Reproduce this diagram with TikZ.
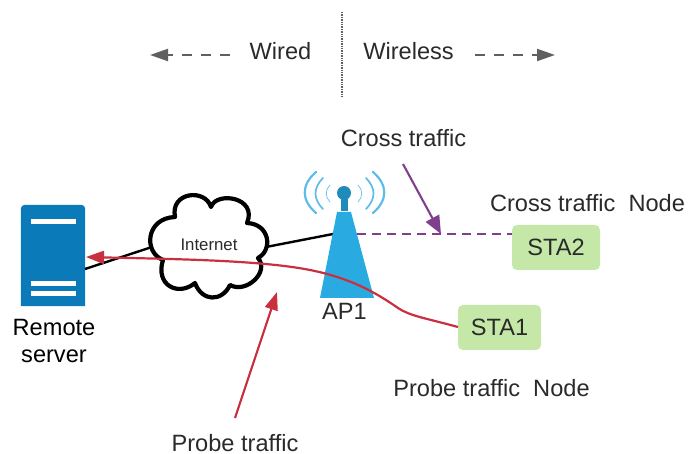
\documentclass[tikz,border=0pt]{standalone}
\usepackage{fontspec}
\setmainfont{Liberation Sans}
\usetikzlibrary{arrows.meta}
\definecolor{srv}{HTML}{0B7AB8}
\definecolor{apblue}{HTML}{29ABE2}
\definecolor{apdark}{HTML}{1F8BBB}
\definecolor{wave}{HTML}{5DBDE8}
\definecolor{redl}{HTML}{C8303F}
\definecolor{purp}{HTML}{7F3F8C}
\definecolor{sta}{HTML}{C5E8A8}
\definecolor{grayl}{HTML}{606060}
\definecolor{txt}{HTML}{2A2A2A}
\tikzset{
  lbl/.style={inner sep=0pt,text=txt,font=\fontsize{23.6}{26}\selectfont},
  stabox/.style={fill=sta,rounded corners=5pt,inner sep=0pt,text=txt,font=\fontsize{23.6}{26}\selectfont},
  bar/.style={fill=white,draw=none},
  redarrow/.style={draw=redl,line width=2.2pt,-{Triangle[length=18pt,width=13pt]}},
  wavea/.style={draw=wave,line cap=round},
  grayarrow/.style={draw=grayl,line width=2pt,dash pattern=on 10pt off 9pt,-{Triangle[length=18pt,width=12pt]}},
  link/.style={draw=black,line width=2.4pt},
}
\begin{document}
\begin{tikzpicture}[x=1pt,y=-1pt]
\useasboundingbox (0,0) rectangle (689,454);
% top
\coordinate (dtop) at (342,12);
\coordinate (dbot) at (342,98);
\draw[grayl,line width=1.8pt,dash pattern=on 1.4pt off 1pt] (dtop) -- (dbot);
\node[lbl] (wired) at (280.5,51) {Wired};
\node[lbl] (wireless) at (408.5,51) {Wireless};
\coordinate (la0) at (230,55); \coordinate (la1) at (150,55);
\coordinate (ra0) at (475,55); \coordinate (ra1) at (555,55);
\draw[grayarrow] (la0) -- (la1);
\draw[grayarrow] (ra0) -- (ra1);
% links under
\node[inner sep=0pt,minimum width=64pt,minimum height=101pt] (server) at (53,255.5) {};
\fill[srv] (server.south west) [rounded corners=4pt] -- (server.north west) -- (server.north east) [sharp corners] -- (server.south east) -- cycle;
\coordinate (s1) at (85,269); \coordinate (c1) at (152,247);
\coordinate (c2) at (266,247); \coordinate (a1) at (333,234);
\draw[link] (s1) -- (c1);
\draw[link] (c2) -- (a1);
\fill[bar] (31,219) rectangle (76,224);
\fill[bar] (31,281) rectangle (76,286);
\fill[bar] (31,291) rectangle (76,296);
\node[lbl,text=black] (remote) at (54,327.5) {Remote};
\node[lbl,text=black] (serverl) at (54,356) {server};
% cloud
\draw[black,line width=4.2pt,fill=white,line join=round]
 (175,217) .. controls (170,192) and (205,188) .. (211,207)
 .. controls (216,191) and (258,197) .. (247,223)
 .. controls (270,224) and (273,250) .. (258,258)
 .. controls (270,272) and (246,294) .. (230,285)
 .. controls (222,302) and (202,302) .. (195,283)
 .. controls (178,297) and (155,285) .. (163,260)
 .. controls (143,252) and (146,218) .. (175,217) -- cycle;
\node[inner sep=0pt,text=txt,font=\fontsize{16.8}{19}\selectfont] (internet) at (209,245) {Internet};
% AP
\fill[apblue] (337,212) -- (351,212) -- (374,298) -- (320,298) -- cycle;
\fill[apdark] (341,197) rectangle (348,211);
\fill[apdark] (344,193) circle (7);
\draw[wavea,line width=2.2pt] (316,172) .. controls (301,185) and (301,200) .. (316,213);
\draw[wavea,line width=1.7pt] (323,178) .. controls (313,188) and (313,199) .. (323,209);
\draw[wavea,line width=.7pt] (330,185) .. controls (325,190) and (325,197) .. (330,202);
\draw[wavea,line width=2.2pt] (373,172) .. controls (388,185) and (388,200) .. (373,213);
\draw[wavea,line width=1.7pt] (366,178) .. controls (376,188) and (376,199) .. (366,209);
\draw[wavea,line width=.7pt] (358,185) .. controls (363,190) and (363,197) .. (358,202);
\node[lbl] (ap) at (344.5,311) {AP1};
% stations
\node[stabox,minimum width=88pt,minimum height=45pt] (sta2) at (556,247.5) {STA2};
\node[stabox,minimum width=83pt,minimum height=45pt] (sta1) at (499.5,327.5) {STA1};
\coordinate (a2) at (357,234);
\coordinate (sta2w) at (sta2.west |- a2);
\coordinate (p0) at (403,164); \coordinate (p1) at (441,234);
\draw[purp,line width=2.2pt,dash pattern=on 9pt off 6pt] (a2) -- (sta2w);
\draw[purp,line width=2.1pt,-{Triangle[length=18pt,width=15pt]}] (p0) -- (p1);
% red
\coordinate (r0) at (458,327); \coordinate (r1) at (86,257);
\draw[redarrow] (r0) .. controls (425,318) and (410,316) .. (398,308)
 .. controls (375,292) and (350,278) .. (310,270)
 .. controls (260,260) and (170,259) .. (r1);
\coordinate (q0) at (235,418); \coordinate (q1) at (277,292);
\draw[redarrow] (q0) -- (q1);
% labels
\node[lbl] (crossl) at (403.5,138) {Cross traffic};
\node[lbl] (crossn) at (587.5,203) {Cross traffic\ \ Node};
\node[lbl] (probel) at (235,443.5) {Probe traffic};
\node[lbl] (proben) at (491.5,388) {Probe traffic\ \ Node};
\end{tikzpicture}
\end{document}
